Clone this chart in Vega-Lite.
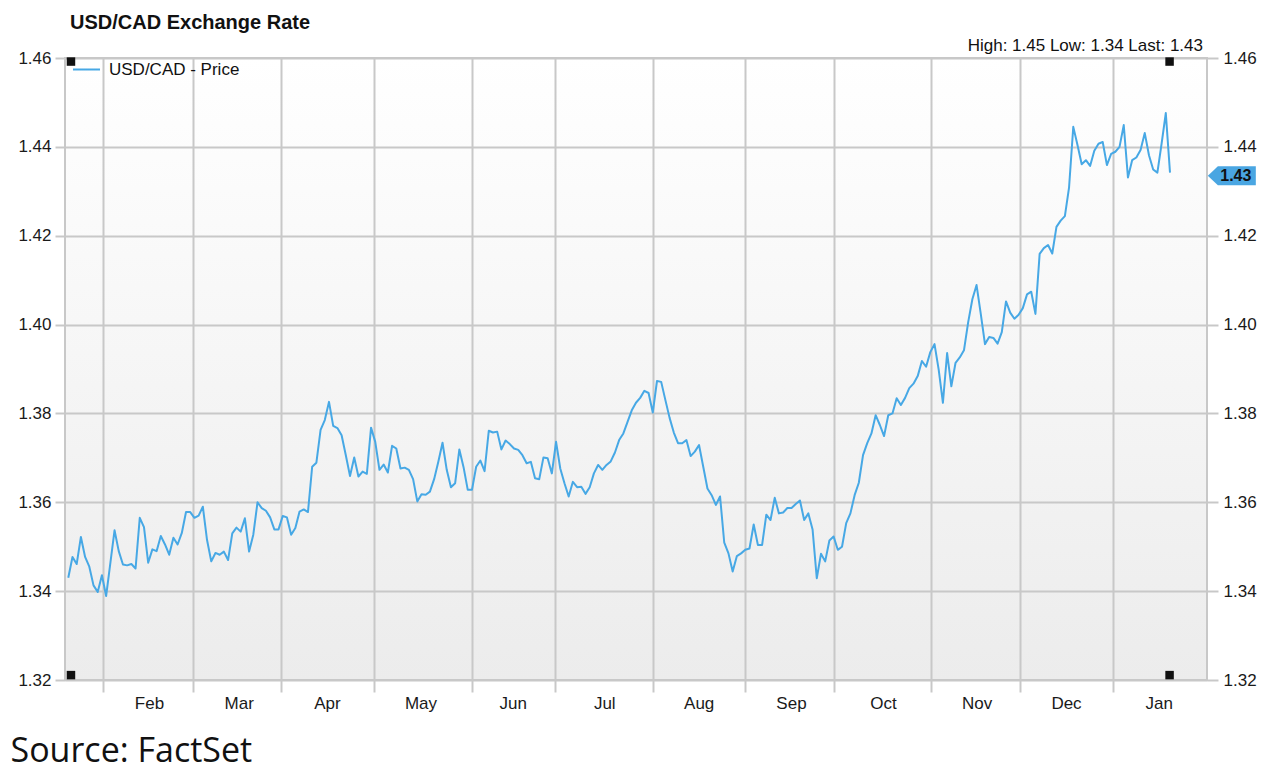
{
  "$schema": "https://vega.github.io/schema/vega-lite/v6.json",
  "width": 1142,
  "height": 622,
  "autosize": "none",
  "padding": {"left": 65, "top": 58, "right": 55, "bottom": 94},
  "background": "#ffffff",
  "title": {"text": "USD/CAD Exchange Rate", "anchor": "start", "frame": "group", "offset": -12, "dx": 5, "fontSize": 20, "font": "Liberation Sans", "fontWeight": "bold", "color": "#111111", "baseline": "alphabetic"},
  "config": {
    "view": {"fill": {"gradient": "linear", "x1": 0, "y1": 0, "x2": 0, "y2": 1, "stops": [{"offset": 0, "color": "#ffffff"}, {"offset": 1, "color": "#ececec"}]}, "stroke": "#c8c8c8", "strokeWidth": 2},
    "font": "Liberation Sans"
  },
  "encoding": {
    "x": {
      "field": "t", "type": "quantitative",
      "scale": {"domain": [-0.78, 270.8], "nice": false, "zero": false},
      "title": "Source: FactSet",
      "axis": {
        "values": [8.25, 29.58, 50.58, 72.82, 95.93, 115.81, 138.98, 160.93, 182.09, 205.09, 226.33, 248.37],
        "labelExpr": "datum.value < 20 ? 'Feb' : datum.value < 40 ? 'Mar' : datum.value < 60 ? 'Apr' : datum.value < 85 ? 'May' : datum.value < 105 ? 'Jun' : datum.value < 125 ? 'Jul' : datum.value < 150 ? 'Aug' : datum.value < 170 ? 'Sep' : datum.value < 195 ? 'Oct' : datum.value < 215 ? 'Nov' : datum.value < 240 ? 'Dec' : 'Jan'",
        "labelOffset": {"condition": [{"test": "datum.value > 90 && datum.value < 100", "value": 41}, {"test": "(datum.value > 110 && datum.value < 120) || (datum.value > 180 && datum.value < 190)", "value": 49}], "value": 46},
        "labelFlush": false, "labelOverlap": false,
        "labelFontSize": 17, "labelFont": "Liberation Sans", "labelColor": "#1a1a1a",
        "tickSize": 12, "tickColor": "#c8c8c8", "tickWidth": 2, "labelPadding": 3,
        "grid": true, "gridColor": "#c8c8c8", "gridWidth": 2, "domain": false,
        "titleAnchor": "start", "titleAlign": "left", "titleX": -55, "titleY": 81, "titleBaseline": "alphabetic",
        "titleFont": "Open Sans", "titleFontSize": 34, "titleFontWeight": "normal", "titleColor": "#111111"
      }
    }
  },
  "layer": [
    {
      "data": {"values": [
        {"t":0,"price":1.3430},{"t":1,"price":1.3477},{"t":2,"price":1.3461},{"t":3,"price":1.3522},{"t":4,"price":1.3477},{"t":5,"price":1.3455},{"t":6,"price":1.3413},{"t":7,"price":1.3398},{"t":8,"price":1.3436},{"t":9,"price":1.3389},
        {"t":11,"price":1.3537},{"t":12,"price":1.3490},{"t":13,"price":1.3460},{"t":14,"price":1.3458},{"t":15,"price":1.3461},{"t":16,"price":1.3451},{"t":17,"price":1.3565},{"t":18,"price":1.3544},{"t":19,"price":1.3464},
        {"t":20,"price":1.3494},{"t":21,"price":1.3490},{"t":22,"price":1.3524},{"t":23,"price":1.3505},{"t":24,"price":1.3482},{"t":25,"price":1.3520},{"t":26,"price":1.3505},{"t":27,"price":1.3531},{"t":28,"price":1.3578},{"t":29,"price":1.3578},
        {"t":30,"price":1.3565},{"t":31,"price":1.3570},{"t":32,"price":1.3590},{"t":33,"price":1.3515},{"t":34,"price":1.3467},{"t":35,"price":1.3486},{"t":36,"price":1.3482},{"t":37,"price":1.3489},{"t":38,"price":1.3470},{"t":39,"price":1.3530},
        {"t":40,"price":1.3543},{"t":41,"price":1.3534},{"t":42,"price":1.3564},{"t":43,"price":1.3489},{"t":44,"price":1.3527},{"t":45,"price":1.3600},{"t":46,"price":1.3587},{"t":47,"price":1.3581},{"t":48,"price":1.3566},{"t":49,"price":1.3539},
        {"t":50,"price":1.3539},{"t":51,"price":1.3569},{"t":52,"price":1.3566},{"t":53,"price":1.3527},{"t":54,"price":1.3542},{"t":55,"price":1.3579},{"t":56,"price":1.3584},{"t":57,"price":1.3578},{"t":58,"price":1.3680},{"t":59,"price":1.3689},
        {"t":60,"price":1.3763},{"t":61,"price":1.3785},{"t":62,"price":1.3826},{"t":63,"price":1.3772},{"t":64,"price":1.3767},{"t":65,"price":1.3751},{"t":66,"price":1.3706},{"t":67,"price":1.3659},{"t":68,"price":1.3701},{"t":69,"price":1.3658},
        {"t":70,"price":1.3669},{"t":71,"price":1.3664},{"t":72,"price":1.3768},{"t":73,"price":1.3736},{"t":74,"price":1.3673},{"t":75,"price":1.3685},{"t":76,"price":1.3667},{"t":77,"price":1.3727},{"t":78,"price":1.3721},{"t":79,"price":1.3676},
        {"t":80,"price":1.3678},{"t":81,"price":1.3673},{"t":82,"price":1.3652},{"t":83,"price":1.3602},{"t":84,"price":1.3618},{"t":85,"price":1.3617},{"t":86,"price":1.3624},{"t":87,"price":1.3652},{"t":88,"price":1.3691},{"t":89,"price":1.3734},
        {"t":90,"price":1.3673},{"t":91,"price":1.3634},{"t":92,"price":1.3643},{"t":93,"price":1.3719},{"t":94,"price":1.3679},{"t":95,"price":1.3628},{"t":96,"price":1.3628},{"t":97,"price":1.3680},{"t":98,"price":1.3694},{"t":99,"price":1.3670},
        {"t":100,"price":1.3761},{"t":101,"price":1.3757},{"t":102,"price":1.3759},{"t":103,"price":1.3719},{"t":104,"price":1.3739},{"t":105,"price":1.3731},{"t":106,"price":1.3721},{"t":107,"price":1.3718},{"t":108,"price":1.3706},{"t":109,"price":1.3688},
        {"t":110,"price":1.3691},{"t":111,"price":1.3654},{"t":112,"price":1.3652},{"t":113,"price":1.3701},{"t":114,"price":1.3699},{"t":115,"price":1.3665},{"t":116,"price":1.3736},{"t":117,"price":1.3676},{"t":118,"price":1.3643},{"t":119,"price":1.3613},
        {"t":120,"price":1.3646},{"t":121,"price":1.3634},{"t":122,"price":1.3635},{"t":123,"price":1.3619},{"t":124,"price":1.3634},{"t":125,"price":1.3665},{"t":126,"price":1.3684},{"t":127,"price":1.3673},{"t":128,"price":1.3684},{"t":129,"price":1.3692},
        {"t":130,"price":1.3712},{"t":131,"price":1.3740},{"t":132,"price":1.3755},{"t":133,"price":1.3781},{"t":134,"price":1.3807},{"t":135,"price":1.3824},{"t":136,"price":1.3835},{"t":137,"price":1.3851},{"t":138,"price":1.3846},{"t":139,"price":1.3802},
        {"t":140,"price":1.3873},{"t":141,"price":1.3871},{"t":142,"price":1.3830},{"t":143,"price":1.3790},{"t":144,"price":1.3757},{"t":145,"price":1.3733},{"t":146,"price":1.3733},{"t":147,"price":1.3740},{"t":148,"price":1.3704},{"t":149,"price":1.3714},
        {"t":150,"price":1.3729},{"t":151,"price":1.3680},{"t":152,"price":1.3631},{"t":153,"price":1.3616},{"t":154,"price":1.3594},{"t":155,"price":1.3613},{"t":156,"price":1.3509},{"t":157,"price":1.3485},{"t":158,"price":1.3444},{"t":159,"price":1.3479},
        {"t":160,"price":1.3485},{"t":161,"price":1.3493},{"t":162,"price":1.3496},{"t":163,"price":1.3550},{"t":164,"price":1.3504},{"t":165,"price":1.3504},{"t":166,"price":1.3572},{"t":167,"price":1.3560},{"t":168,"price":1.3610},{"t":169,"price":1.3575},
        {"t":170,"price":1.3577},{"t":171,"price":1.3587},{"t":172,"price":1.3587},{"t":173,"price":1.3596},{"t":174,"price":1.3604},{"t":175,"price":1.3560},{"t":176,"price":1.3575},{"t":177,"price":1.3539},{"t":178,"price":1.3429},{"t":179,"price":1.3484},
        {"t":180,"price":1.3467},{"t":181,"price":1.3514},{"t":182,"price":1.3523},{"t":183,"price":1.3493},{"t":184,"price":1.3500},{"t":185,"price":1.3553},{"t":186,"price":1.3575},{"t":187,"price":1.3616},{"t":188,"price":1.3644},{"t":189,"price":1.3706},
        {"t":190,"price":1.3733},{"t":191,"price":1.3755},{"t":192,"price":1.3796},{"t":193,"price":1.3774},{"t":194,"price":1.3749},{"t":195,"price":1.3796},{"t":196,"price":1.3800},{"t":197,"price":1.3834},{"t":198,"price":1.3819},{"t":199,"price":1.3835},
        {"t":200,"price":1.3857},{"t":201,"price":1.3867},{"t":202,"price":1.3884},{"t":203,"price":1.3918},{"t":204,"price":1.3905},{"t":205,"price":1.3938},{"t":206,"price":1.3956},{"t":207,"price":1.3898},{"t":208,"price":1.3824},{"t":209,"price":1.3936},
        {"t":210,"price":1.3861},{"t":211,"price":1.3914},{"t":212,"price":1.3926},{"t":213,"price":1.3942},{"t":214,"price":1.4005},{"t":215,"price":1.4057},{"t":216,"price":1.4089},{"t":217,"price":1.4024},{"t":218,"price":1.3956},{"t":219,"price":1.3972},
        {"t":220,"price":1.3970},{"t":221,"price":1.3957},{"t":222,"price":1.3983},{"t":223,"price":1.4052},{"t":224,"price":1.4027},{"t":225,"price":1.4013},{"t":226,"price":1.4022},{"t":227,"price":1.4037},{"t":228,"price":1.4068},{"t":229,"price":1.4074},
        {"t":230,"price":1.4024},{"t":231,"price":1.4159},{"t":232,"price":1.4172},{"t":233,"price":1.4179},{"t":234,"price":1.4160},{"t":235,"price":1.4220},{"t":236,"price":1.4234},{"t":237,"price":1.4244},{"t":238,"price":1.4309},{"t":239,"price":1.4445},
        {"t":240,"price":1.4404},{"t":241,"price":1.4361},{"t":242,"price":1.4370},{"t":243,"price":1.4357},{"t":244,"price":1.4391},{"t":245,"price":1.4407},{"t":246,"price":1.4411},{"t":247,"price":1.4359},{"t":248,"price":1.4384},{"t":249,"price":1.4389},
        {"t":250,"price":1.4400},{"t":251,"price":1.4449},{"t":252,"price":1.4331},{"t":253,"price":1.4370},{"t":254,"price":1.4376},{"t":255,"price":1.4393},{"t":256,"price":1.4431},{"t":257,"price":1.4381},{"t":258,"price":1.4349},{"t":259,"price":1.4342},
        {"t":260,"price":1.4407},{"t":261,"price":1.4476},{"t":262,"price":1.4342}
      ]},
      "mark": {"type": "line", "strokeWidth": 2, "strokeJoin": "round"},
      "encoding": {
        "y": {"field": "price", "type": "quantitative", "title": null,
          "scale": {"domain": [1.32, 1.46], "nice": false, "zero": false},
          "axis": {"orient": "left", "values": [1.32, 1.34, 1.36, 1.38, 1.40, 1.42, 1.44, 1.46], "format": ".2f",
            "labelFontSize": 17, "labelFont": "Liberation Sans", "labelColor": "#1a1a1a", "labelFlush": false,
            "tickSize": 10, "tickColor": "#c8c8c8", "tickWidth": 2, "labelPadding": 4,
            "grid": true, "gridColor": "#c8c8c8", "gridWidth": 2, "domain": false}},
        "color": {"datum": "USD/CAD - Price", "type": "nominal", "scale": {"range": ["#47a8e5"]},
          "legend": {"orient": "none", "legendX": 7, "legendY": -3, "title": null, "symbolType": "stroke", "symbolSize": 729, "symbolStrokeWidth": 2,
            "labelFontSize": 17, "labelFont": "Liberation Sans", "labelColor": "#111111", "labelOffset": 8, "padding": 0}}
      }
    },
    {
      "data": {"values": [
        {"t": 0.64, "price": 1.4592}, {"t": 261.9, "price": 1.4592}, {"t": 0.64, "price": 1.3211}, {"t": 261.9, "price": 1.3211}
      ]},
      "mark": {"type": "point", "shape": "square", "filled": true, "size": 72, "color": "#111111", "opacity": 1},
      "encoding": {
        "y": {"field": "price", "type": "quantitative", "title": null,
          "scale": {"domain": [1.32, 1.46], "nice": false, "zero": false},
          "axis": {"orient": "right", "values": [1.32, 1.34, 1.36, 1.38, 1.40, 1.42, 1.44, 1.46], "format": ".2f",
            "labelFontSize": 17, "labelFont": "Liberation Sans", "labelColor": "#1a1a1a", "labelFlush": false,
            "tickSize": 11, "tickColor": "#c8c8c8", "tickWidth": 2, "labelPadding": 5,
            "grid": false, "domain": false}}
      }
    },
    {
      "data": {"values": [{"t": 276.7, "price": 1.4335, "label": "1.43"}]},
      "layer": [
        {
          "mark": {"type": "point", "shape": "M-1,0L-0.58,-0.4L1,-0.4L1,0.4L-0.58,0.4Z", "filled": true, "size": 2304, "color": "#4aa6e2", "opacity": 1},
          "encoding": {"y": {"field": "price", "type": "quantitative", "axis": null, "scale": {"domain": [1.32, 1.46], "nice": false, "zero": false}}}
        },
        {
          "mark": {"type": "text", "fontSize": 16, "fontWeight": "bold", "font": "Liberation Sans", "color": "#111111", "dx": 4, "align": "center", "baseline": "middle"},
          "encoding": {"y": {"field": "price", "type": "quantitative", "axis": null, "scale": {"domain": [1.32, 1.46], "nice": false, "zero": false}}, "text": {"field": "label"}}
        }
      ]
    },
    {
      "data": {"values": [{"t": 269.85, "price": 1.46, "label": "High: 1.45 Low: 1.34 Last: 1.43"}]},
      "mark": {"type": "text", "fontSize": 17, "font": "Liberation Sans", "color": "#111111", "align": "right", "baseline": "alphabetic", "dy": -7},
      "encoding": {"y": {"field": "price", "type": "quantitative", "axis": null, "scale": {"domain": [1.32, 1.46], "nice": false, "zero": false}}, "text": {"field": "label"}}
    }
  ],
  "resolve": {"axis": {"y": "independent"}}
}
